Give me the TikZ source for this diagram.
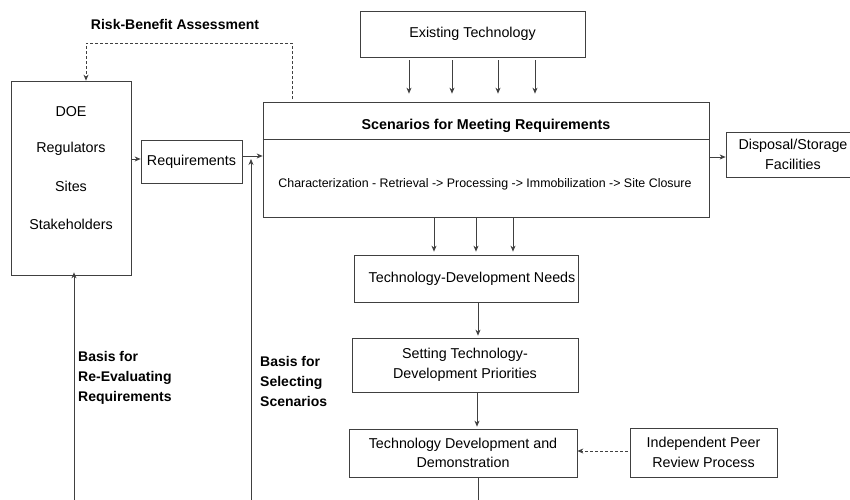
\documentclass[tikz,border=0pt]{standalone}
\usepackage{fontspec}
\setmainfont{Liberation Sans}
\usetikzlibrary{arrows.meta}
\begin{document}
\begin{tikzpicture}[x=1pt,y=-1pt,
  box/.style={draw=black!75, line width=0.7pt, inner sep=0pt},
  lbl/.style={font=\fontsize{14.3}{19.5}\selectfont, align=center, inner sep=0pt},
  blbl/.style={font=\fontsize{14}{20}\selectfont\bfseries, align=left, inner sep=0pt},
  conn/.style={draw=black!75, line width=0.7pt},
  arr/.style={conn, -{Stealth[length=6pt,width=5pt]}},
  darr/.style={arr, dash pattern=on 3pt off 2pt},
]
\useasboundingbox (0,0) rectangle (850,499);

% boxes
\node[box, minimum width=120, minimum height=194] (src) at (71,178) {};
\node[lbl] (t1) at (71,112) {DOE};
\node[lbl] (t2) at (71,149) {Regulators};
\node[lbl] (t3) at (71,186) {Sites};
\node[lbl] (t4) at (71,224) {Stakeholders};

\node[box, lbl, minimum width=101, minimum height=43] (req) at (191.5,161.5) {Requirements};
\node[box, lbl, minimum width=225, minimum height=46] (ext) at (472.5,34) {Existing Technology};
\node[box, minimum width=446, minimum height=115] (scen) at (486,159.5) {};
\coordinate (div) at (0,139);
\draw[conn] (scen.west |- div) -- (scen.east |- div);
\node[lbl, font=\fontsize{14.3}{19.5}\selectfont\bfseries] (stitle) at (486,126) {Scenarios for Meeting Requirements};
\node[lbl, font=\fontsize{12.4}{15}\selectfont] (sbody) at (485,184) {Characterization - Retrieval -> Processing -> Immobilization -> Site Closure};

\node[box, lbl, minimum width=134, minimum height=45] (disp) at (793,154.5) {Disposal/Storage\\Facilities};
\node[box, lbl, minimum width=224, minimum height=47] (needs) at (466,278.5) {\hspace*{12pt}Technology-Development Needs};
\node[box, lbl, minimum width=226, minimum height=54] (prio) at (465,365) {Setting Technology-\\Development Priorities};
\node[box, lbl, minimum width=228, minimum height=48] (dev) at (463,453) {Technology Development and\\Demonstration};
\node[box, lbl, minimum width=147, minimum height=49] (peer) at (703.5,452.5) {Independent Peer\\Review Process};

% labels
\node[blbl, align=center] (rb) at (175,24) {Risk-Benefit Assessment};
\node[blbl, anchor=west] (bre) at (78,378) {Basis for\\Re-Evaluating\\Requirements};
\node[blbl, anchor=west] (bse) at (260,381) {Basis for\\Selecting\\Scenarios};

% coordinates
\coordinate (rbA) at (292,99);
\coordinate (rbB) at (86,43);
\coordinate (ry1) at (0,159);
\coordinate (ry2) at (0,156);
\coordinate (dy) at (0,157);
\coordinate (e1) at (409,0);
\coordinate (e2) at (452,0);
\coordinate (e3) at (498,0);
\coordinate (e4) at (535,0);
\coordinate (s1) at (434,0);
\coordinate (s2) at (476,0);
\coordinate (s3) at (513,0);
\coordinate (p1) at (478,0);
\coordinate (p2) at (477,0);
\coordinate (py) at (0,451);
\coordinate (botL) at (74,505);
\coordinate (botS) at (251,505);
\coordinate (topS) at (251,159);
\coordinate (botD) at (478,505);

% risk-benefit loop
\draw[darr] (rbA) |- (rbB) -- (rbB |- src.north);

% flows
\draw[arr] (src.east |- ry1) -- (req.west |- ry1);
\draw[arr] (req.east |- ry2) -- (scen.west |- ry2);
\draw[arr] (scen.east |- dy) -- (disp.west |- dy);
\foreach \c in {e1,e2,e3,e4}
  \draw[arr, shorten <=3pt, shorten >=8pt] (ext.south -| \c) -- (scen.north -| \c);
\foreach \c in {s1,s2,s3}
  \draw[arr, shorten >=3pt] (scen.south -| \c) -- (needs.north -| \c);
\draw[arr, shorten >=2pt] (needs.south -| p1) -- (prio.north -| p1);
\draw[arr, shorten >=2pt] (prio.south -| p2) -- (dev.north -| p2);
\draw[conn] (dev.south -| botD) -- (botD);
\draw[darr, shorten <=2pt] (peer.west |- py) -- (dev.east |- py);
\draw[arr, shorten >=-3pt] (botL) -- (src.south -| botL);
\draw[arr] (botS) -- (topS);
\end{tikzpicture}
\end{document}
